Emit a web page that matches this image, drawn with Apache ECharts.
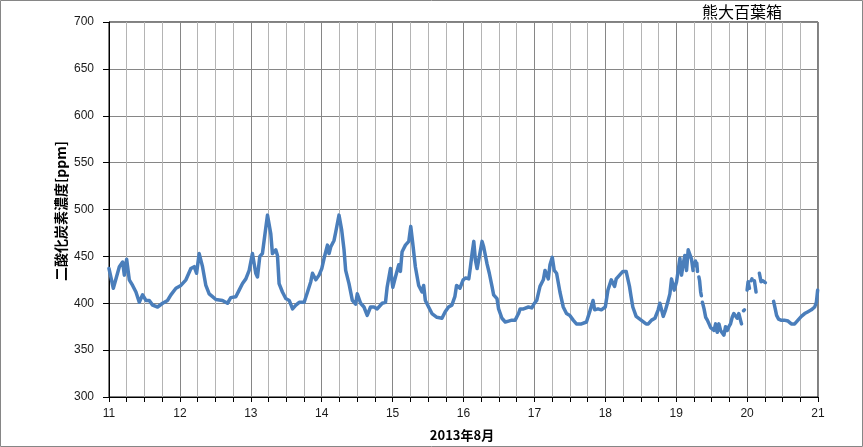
<!DOCTYPE html>
<html>
<head>
<meta charset="utf-8">
<script src="https://cdn.jsdelivr.net/npm/echarts@6/dist/echarts.min.js"></script>
<style>
html,body{margin:0;padding:0;background:#fff;}
#chart{width:863px;height:447px;}
</style>
</head>
<body>
<div id="chart"></div>
<script>
// Time in days of August 2013 (fractional), CO2 concentration [ppm]; null = missing
const days = [
11.000,11.061,11.146,11.192,11.216,11.249,11.286,11.333,11.380,11.427,11.474,11.521,11.568,11.615,11.685,11.756,11.826,11.873,11.944,
12.014,12.085,12.155,12.202,12.235,12.272,12.319,12.366,12.413,12.460,12.507,12.601,12.671,12.718,12.789,12.836,12.883,12.930,12.977,
13.023,13.070,13.094,13.127,13.164,13.188,13.235,13.282,13.305,13.352,13.376,13.399,13.446,13.493,13.542,13.589,13.636,13.683,13.753,13.800,13.846,13.870,13.917,13.963,
14.001,14.034,14.081,14.104,14.127,14.174,14.198,14.244,14.282,14.315,14.338,14.385,14.432,14.478,14.502,14.549,14.596,14.642,14.689,14.736,14.783,14.853,14.900,14.923,14.970,
15.003,15.040,15.087,15.110,15.134,15.181,15.228,15.256,15.284,15.321,15.368,15.415,15.438,15.462,15.508,15.555,15.625,15.696,15.742,15.789,15.836,15.878,15.902,15.949,15.995,
16.030,16.075,16.098,16.121,16.145,16.168,16.192,16.224,16.262,16.285,16.332,16.364,16.402,16.425,16.472,16.495,16.542,16.589,16.636,16.682,16.729,16.776,16.799,16.846,16.916,16.963,
17.000,17.033,17.079,17.126,17.150,17.173,17.196,17.220,17.252,17.280,17.313,17.360,17.407,17.453,17.500,17.547,17.593,17.664,17.734,17.780,17.827,17.850,17.897,17.944,
18.000,18.037,18.084,18.131,18.154,18.201,18.248,18.294,18.341,18.364,18.388,18.435,18.505,18.575,18.606,18.653,18.700,18.746,18.770,18.817,18.850,18.887,18.911,18.934,18.972,
19.005,19.028,19.052,19.075,19.099,19.122,19.146,19.169,19.192,19.216,19.238,19.250,19.262,19.272,19.281,19.290,19.300,19.310,19.320,19.330,19.345,19.355,19.362,
19.370,19.393,19.416,19.439,19.463,19.486,19.509,19.533,19.556,19.579,19.603,19.626,19.650,19.673,19.696,19.720,19.743,19.766,19.790,19.813,19.836,19.860,19.883,19.907,19.921,19.935,19.950,19.962,19.980,
20.000,20.014,20.033,20.045,20.056,20.068,20.080,20.103,20.126,20.150,20.173,20.196,20.208,20.220,20.257,20.300,
20.374,20.397,20.416,20.444,20.476,20.523,20.577,20.624,20.671,20.718,20.765,20.812,20.859,20.906,20.953,20.977,20.995
];
const co2 = [
437,416,439,444,430,447,425,419,412,401,409,403,403,398,396,400,403,409,416,
419,425,437,439,432,453,439,419,410,407,404,403,400,406,407,414,421,426,435,
453,432,428,450,453,467,494,474,453,457,451,421,412,405,403,394,398,401,401,412,423,432,425,430,
437,448,462,453,460,467,476,494,478,457,435,421,403,399,410,400,396,387,396,396,394,400,401,417,437,
417,428,441,434,455,462,466,482,464,439,419,412,419,403,396,389,385,384,391,396,398,407,419,416,425,
427,426,439,453,466,446,437,450,466,460,442,432,418,409,405,394,384,380,381,382,382,389,394,394,396,395,
400,403,418,425,435,437,426,441,449,435,432,412,396,389,387,382,378,378,380,391,403,393,394,393,
396,414,425,418,426,430,434,434,418,407,396,386,382,378,378,382,384,393,400,386,393,403,410,426,414,
423,435,448,430,442,451,435,457,456,447,435,null,440,445,null,443,434,null,428,424,412,408,null,
401,394,385,382,378,374,376,371,378,369,378,371,373,366,375,371,375,378,385,389,391,384,389,382,378,null,392,393,null,
414,423,416,null,424,426,null,424,412,null,432,423,null,424,422,null,
402,394,387,383,382,382,381,378,378,382,386,389,391,393,396,401,414
];
const xTickLabels = [11,12,13,14,15,16,17,18,19,20,21];
const yTicks = [300,350,400,450,500,550,600,650,700];

const seriesData = days.map((d, i) => [d, co2[i] === null ? '-' : co2[i]]);

const chart = echarts.init(document.getElementById('chart'), null, {renderer: 'canvas'});
const txtFont = 'Liberation Sans, Arial, sans-serif';
const cjkFont = '"Noto Sans CJK JP", "Noto Sans", sans-serif';

chart.setOption({
  animation: false,
  backgroundColor: '#ffffff',
  grid: {
    left: 109, right: 45, top: 22, bottom: 50,
    show: true, borderColor: '#000', borderWidth: 1, backgroundColor: 'transparent'
  },
  xAxis: [
    {
      type: 'value', min: 11, max: 21, interval: 0.25,
      axisLine: {show: true, lineStyle: {color: '#000', width: 1}},
      axisTick: {show: true, inside: false, length: 5, lineStyle: {color: '#000'}},
      axisLabel: {show: false},
      splitLine: {show: true, lineStyle: {color: '#b4b4b4', width: 1}}
    },
    {
      type: 'value', min: xTickLabels[0], max: xTickLabels[xTickLabels.length - 1], interval: 1,
      position: 'bottom',
      axisLine: {show: false},
      axisTick: {show: false},
      axisLabel: {
        show: true, margin: 11, color: '#1a1a1a', fontSize: 12, fontFamily: txtFont,
        formatter: v => (xTickLabels.indexOf(v) >= 0 ? String(v) : '')
      },
      splitLine: {show: true, lineStyle: {color: '#868686', width: 1}}
    }
  ],
  yAxis: {
    type: 'value', min: yTicks[0], max: yTicks[yTicks.length - 1], interval: 50,
    axisLine: {show: true, lineStyle: {color: '#000', width: 1}},
    axisTick: {show: true, inside: false, length: 6, lineStyle: {color: '#000'}},
    axisLabel: {margin: 15, color: '#1a1a1a', fontSize: 12, fontFamily: txtFont},
    splitLine: {show: true, lineStyle: {color: '#868686', width: 1}}
  },
  series: [{
    type: 'line',
    xAxisIndex: 0,
    data: seriesData,
    showSymbol: false,
    connectNulls: false,
    lineStyle: {color: '#4a7ebb', width: 3.5, join: 'round', cap: 'round'},
    itemStyle: {color: '#4a7ebb'},
    z: 5
  }],
  graphic: [
    {
      type: 'rect', silent: true, z: 100,
      shape: {x: 0.5, y: 0.5, width: 862, height: 446},
      style: {fill: 'none', stroke: '#868686', lineWidth: 1}
    },
    {
      type: 'text', silent: true,
      x: 742, y: 12,
      style: {text: '熊大百葉箱', font: '16px ' + cjkFont, fill: '#000', textAlign: 'center', textVerticalAlign: 'middle'}
    },
    {
      type: 'text', silent: true,
      x: 462, y: 435,
      style: {text: '2013年8月', font: 'bold 13px ' + cjkFont, fill: '#000', textAlign: 'center', textVerticalAlign: 'middle'}
    },
    {
      type: 'text', silent: true,
      x: 61, y: 211, rotation: Math.PI / 2,
      style: {text: '二酸化炭素濃度[ppm]', font: 'bold 14px ' + cjkFont, fill: '#000', textAlign: 'center', textVerticalAlign: 'middle'}
    }
  ]
});
</script>
</body>
</html>
